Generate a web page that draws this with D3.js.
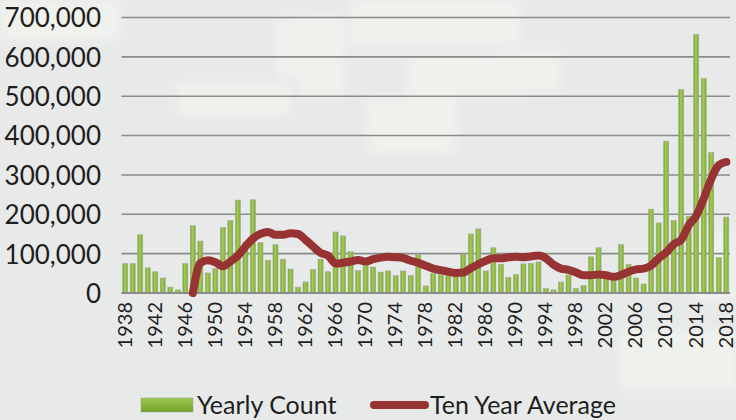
<!DOCTYPE html>
<html>
<head>
<meta charset="utf-8">
<script src="https://cdn.jsdelivr.net/npm/d3@7"></script>
<style>
  body { margin: 0; background: #e7eae9; }
  svg { display: block; }
  text { font-family: Lato, "Open Sans", sans-serif; fill: #1e1e1e; }
</style>
</head>
<body>
<script>
// data
const START_YEAR = 1938;
const yearlyCount = [
  75, 75, 148, 64, 54, 38, 15, 8, 75, 171,          // 1938-1947
  132, 51, 62, 167, 184, 236, 129, 237, 128, 83,    // 1948-1957
  123, 86, 61, 15, 28, 60, 86, 54, 155, 145,        // 1958-1967
  105, 57, 70, 66, 53, 56, 44, 56, 44, 98,          // 1968-1977
  18, 50, 47, 44, 42, 98, 150, 163, 56, 115,        // 1978-1987
  73, 40, 47, 74, 75, 79, 11, 8, 28, 46,            // 1988-1997
  11, 19, 92, 115, 42, 32, 123, 73, 38, 23,         // 1998-2007
  213, 178, 386, 184, 517, 195, 657, 545, 357, 90,  // 2008-2017
  193                                               // 2018
].map(v => v * 1000);

const AVG_START = 1947;
const tenYearAverage = [
  0, 76, 83, 78, 68, 80, 95, 118, 138, 150,         // 1947-1956
  155, 148, 148, 152, 150, 135, 118, 102, 95, 75,   // 1957-1966
  77, 80, 84, 80, 86, 90, 92, 91, 89, 82,           // 1967-1976
  77, 69, 62, 58, 54, 51, 52, 63, 73, 82,           // 1977-1986
  88, 88, 91, 92, 91, 93, 95, 88, 72, 62,           // 1987-1996
  59, 52, 45, 45, 47, 45, 41, 46, 54, 60,           // 1997-2006
  62, 70, 88, 103, 124, 135, 172, 196, 240, 290,    // 2007-2016
  325, 333                                          // 2017-2018
].map(v => v * 1000);

const yTicks = [0, 100000, 200000, 300000, 400000, 500000, 600000, 700000];
const xTickYears = [1938, 1942, 1946, 1950, 1954, 1958, 1962, 1966, 1970, 1974,
  1978, 1982, 1986, 1990, 1994, 1998, 2002, 2006, 2010, 2014, 2018];

const W = 736, H = 420;
const plot = {left: 121.5, right: 730, top: 17.5, bottom: 293};

const years = yearlyCount.map((d, i) => START_YEAR + i);

const svg = d3.select("body").append("svg")
    .attr("width", W)
    .attr("height", H);

const defs = svg.append("defs");

const barGrad = defs.append("linearGradient")
    .attr("id", "barGrad")
    .attr("x1", "0").attr("x2", "1").attr("y1", "0").attr("y2", "0");
barGrad.append("stop").attr("offset", "0%").attr("stop-color", "#739f2e");
barGrad.append("stop").attr("offset", "40%").attr("stop-color", "#a3cd52");
barGrad.append("stop").attr("offset", "100%").attr("stop-color", "#7fa937");

const legGrad = defs.append("linearGradient")
    .attr("id", "legGrad")
    .attr("x1", "0").attr("x2", "0").attr("y1", "0").attr("y2", "1");
legGrad.append("stop").attr("offset", "0%").attr("stop-color", "#9ccb4c");
legGrad.append("stop").attr("offset", "100%").attr("stop-color", "#74a12f");

defs.append("filter")
    .attr("id", "soft")
    .attr("x", "-20%").attr("y", "-20%")
    .attr("width", "140%").attr("height", "140%")
    .append("feGaussianBlur")
    .attr("stdDeviation", 4);

// faded background patches
const bg = svg.append("g").attr("filter", "url(#soft)");
const patches = [
  [0, 0, 120, 40], [177, 83, 113, 32], [277, 18, 66, 60], [300, 17, 45, 80],
  [350, 0, 170, 45], [367, 97, 90, 56], [407, 55, 113, 42], [500, 50, 60, 43],
  [690, 230, 46, 70], [620, 330, 116, 60]
];
bg.selectAll("rect")
    .data(patches)
    .enter()
    .append("rect")
    .attr("x", d => d[0])
    .attr("y", d => d[1])
    .attr("width", d => d[2])
    .attr("height", d => d[3])
    .style("fill", "#eff1ed");

// scales
const xScale = d3.scaleBand()
    .domain(years)
    .range([plot.left, plot.right])
    .paddingInner(0.33)
    .paddingOuter(0.16);

const yScale = d3.scaleLinear()
    .domain([0, 700000])
    .range([plot.bottom, plot.top]);

const xCenter = yr => xScale(yr) + xScale.bandwidth() / 2;

// gridlines
svg.append("g")
    .selectAll("line")
    .data(yTicks)
    .enter()
    .append("line")
    .attr("x1", plot.left)
    .attr("x2", plot.right)
    .attr("y1", d => yScale(d))
    .attr("y2", d => yScale(d))
    .style("stroke", "#8a8b8a")
    .style("stroke-width", 1.6);

// y axis labels
const yAxis = d3.axisLeft(yScale)
    .tickValues(yTicks)
    .tickFormat(d3.format(","))
    .tickSize(0)
    .tickPadding(0);

svg.append("g")
    .attr("transform", "translate(101,0)")
    .call(yAxis)
    .call(g => g.select(".domain").remove())
    .selectAll("text")
    .attr("font-size", "26px")
    .attr("font-family", "Lato, sans-serif")
    .style("fill", "#1e1e1e")
    .attr("dy", "0.36em");

// bars
svg.append("g")
    .selectAll("rect")
    .data(yearlyCount)
    .enter()
    .append("rect")
    .attr("x", (d, i) => xScale(years[i]))
    .attr("y", d => yScale(d))
    .attr("width", xScale.bandwidth())
    .attr("height", d => yScale(0) - yScale(d))
    .style("fill", "url(#barGrad)")
    .style("stroke", "#a3ab98")
    .style("stroke-width", 0.6);

// x axis line
svg.append("line")
    .attr("x1", plot.left)
    .attr("x2", plot.right)
    .attr("y1", yScale(0))
    .attr("y2", yScale(0))
    .style("stroke", "#8a8b8a")
    .style("stroke-width", 2);

// ten year average line
const line = d3.line()
    .x((d, i) => xCenter(AVG_START + i))
    .y(d => yScale(d))
    .curve(d3.curveMonotoneX);

svg.append("path")
    .datum(tenYearAverage)
    .attr("d", line)
    .style("fill", "none")
    .style("stroke", "#973333")
    .style("stroke-width", 8)
    .style("stroke-linecap", "round")
    .style("stroke-linejoin", "round");

// x axis labels
svg.append("g")
    .selectAll("text")
    .data(xTickYears)
    .enter()
    .append("text")
    .attr("transform", d => "translate(" + (xCenter(d) - 0.5) + ",302)rotate(-90)")
    .attr("text-anchor", "end")
    .attr("dy", "0.34em")
    .attr("font-size", "20px")
    .text(d => d);

// legend
const legend = svg.append("g");

legend.append("rect")
    .attr("x", 141)
    .attr("y", 398)
    .attr("width", 52)
    .attr("height", 14)
    .style("fill", "url(#legGrad)")
    .style("stroke", "#9aa390")
    .style("stroke-width", 0.6);

legend.append("text")
    .attr("x", 197)
    .attr("y", 414)
    .attr("font-size", "25px")
    .text("Yearly Count");

legend.append("line")
    .attr("x1", 374)
    .attr("x2", 425)
    .attr("y1", 405)
    .attr("y2", 405)
    .style("stroke", "#973333")
    .style("stroke-width", 8)
    .style("stroke-linecap", "round");

legend.append("text")
    .attr("x", 430)
    .attr("y", 414)
    .attr("font-size", "25px")
    .text("Ten Year Average");
</script>
</body>
</html>
